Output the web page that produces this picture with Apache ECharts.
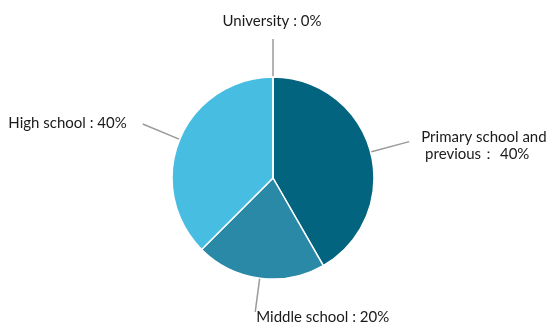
<!DOCTYPE html>
<html>
<head>
<meta charset="utf-8">
<script src="https://cdn.jsdelivr.net/npm/echarts@6/dist/echarts.min.js"></script>
<style>html,body{margin:0;padding:0;background:#fff;}#c{width:552px;height:327px;}</style>
</head>
<body>
<div id="c"></div>
<script>
var categories = ['Primary school and\n previous', 'Middle school', 'High school', 'University'];
var sliceValues = [41.7, 20.8, 37.5, 0];
var labelPercents = ['40%', '20%', '40%', '0%'];
var separators = ['： ', ' : ', ' : ', ' : '];
var colors = ['#02647f', '#2a89a7', '#47bde2', '#8fd3ea'];
var lineLengths = [40, 34, 40, 38];

var chart = echarts.init(document.getElementById('c'), null, {renderer: 'canvas'});
var data = categories.map(function (c, i) {
  return {
    name: c,
    value: sliceValues[i],
    itemStyle: {color: colors[i]},
    labelLine: {length: lineLengths[i], length2: 0}
  };
});
chart.setOption({
  animation: false,
  series: [{
    type: 'pie',
    center: [273, 178],
    radius: 101,
    startAngle: 90,
    clockwise: true,
    minShowLabelAngle: 0,
    itemStyle: {borderColor: '#ffffff', borderWidth: 1.5},
    label: {
      show: true,
      position: 'outside',
      color: '#1a1a1a',
      fontFamily: 'Lato',
      fontSize: 15,
      lineHeight: 17,
      formatter: function (p) {
        return categories[p.dataIndex] + separators[p.dataIndex] + labelPercents[p.dataIndex];
      }
    },
    labelLine: {show: true, lineStyle: {color: '#9a9a9a', width: 1.5}, smooth: 0.2},
    labelLayout: function (p) {
      var pts = p.labelLinePoints;
      if (!pts) return {};
      var e = pts[2];
      var i = p.dataIndex;
      if (i === 0) return {x: e[0] + 12, y: e[1] + 4, align: 'left', verticalAlign: 'middle', labelLinePoints: pts};
      if (i === 1) return {x: e[0] + 1, y: e[1] + 5, align: 'left', verticalAlign: 'middle', labelLinePoints: pts};
      if (i === 2) return {x: e[0] - 16, y: e[1] - 1, align: 'right', verticalAlign: 'middle', labelLinePoints: pts};
      return {x: e[0] - 1, y: e[1] - 18, align: 'center', verticalAlign: 'middle', labelLinePoints: pts};
    },
    data: data
  }]
});
</script>
</body>
</html>
